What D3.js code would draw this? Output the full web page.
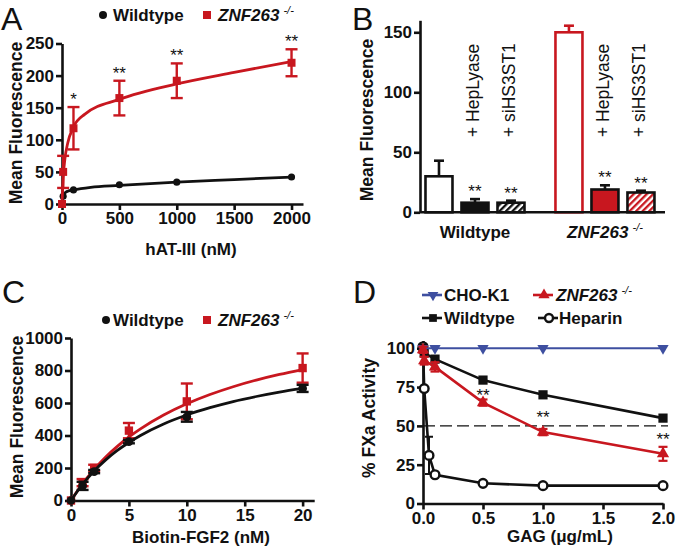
<!DOCTYPE html>
<html><head><meta charset="utf-8">
<script src="https://cdn.jsdelivr.net/npm/d3@7"></script>
<style>body{margin:0;background:#fff} svg{display:block}</style>
</head><body><svg id="c" width="676" height="555"></svg>
<script>
// ---------- DATA ----------
// Panel A
const aWtX=[0,10,100,500,1000,2000];
const aWtY=[1,12,22,30,34,42];
const aKoX=[0,10,100,500,1000,2000];
const aKoY=[0,50,118,165,192,220];
const aKoErr=[0,25,33,27,27,21];
const aKoSig=["","","*","**","**","**"];
const aWtFitX=[0,5,10,25,50,100,250,500,1000,1500,2000];
const aWtFitY=[0,8,12,17,20,22,26,29,34,38,42];
const aKoFitX=[0,5,10,25,50,100,200,500,1000,1500,2000];
const aKoFitY=[0,22,40,70,95,120,140,163,187,205,222];
const aXTicks=[0,500,1000,1500,2000];
const aYTicks=[0,50,100,150,200,250];
// Panel B
const bGroups=["Wildtype","ZNF263"];
const bConds=["Control","+ HepLyase","+ siHS3ST1"];
const bWt=[30,8,8];
const bWtErr=[13,3,1.7];
const bKo=[150,19,16.5];
const bKoErr=[5.5,3.5,1.5];
const bSig=["","**","**"];
const bYTicks=[0,50,100,150];
// Panel C
const cX=[0,1,2,5,10,20];
const cWtY=[0,90,178,362,515,690];
const cWtErr=[0,25,10,10,30,22];
const cKoY=[0,110,200,430,610,815];
const cKoErr=[0,22,20,47,110,90];
const cFitX=[0,1,2,3,4,5,6,8,10,12,14,16,18,20];
const cWtFitY=[0,100,182,250,308,357,400,471,526,571,609,640,667,690];
const cKoFitY=[0,104,192,268,333,391,441,526,595,652,700,741,776,806];
const cXTicks=[0,5,10,15,20];
const cYTicks=[0,200,400,600,800,1000];
// Panel D
const dChoX=[0,0.1,0.5,1,2];
const dChoY=[100,100,100,100,100];
const dWtX=[0,0.01,0.1,0.5,1,2];
const dWtY=[100,97,93,79.5,70,55];
const dKoX=[0,0.01,0.1,0.5,1,2];
const dKoY=[99,92,88,65,46,32];
const dKoErr=[2,2.5,3,2,2,4.5];
const dHepX=[0,0.01,0.05,0.1,0.5,1,2];
const dHepY=[101,74,31,18.5,13,11.5,11.5];
const dHepErr=[0,0,12,0,0,0,0];
const dSigX=[0.5,1,2];
const dXTicks=[0,0.5,1,1.5,2];
const dYTicks=[0,25,50,75,100];
const dRef=50;

// ---------- STYLE ----------
const FONT='"Liberation Sans",Arial,Helvetica,sans-serif';
const RED="#c8171f", BLUE="#3e4fa0", BLK="#111";
const svg=d3.select("#c").attr("font-family",FONT);

const defs=svg.append("defs");
function hatch(id,color){
  const p=defs.append("pattern").attr("id",id).attr("patternUnits","userSpaceOnUse")
    .attr("width",4.6).attr("height",4.6).attr("patternTransform","rotate(45)");
  p.append("rect").attr("width",4.6).attr("height",4.6).attr("fill","#fff");
  p.append("rect").attr("width",2.3).attr("height",4.6).attr("fill",color);
}
hatch("hBlk",BLK); hatch("hRed",RED);

function styleAxis(g){
  g.attr("font-family",FONT).attr("font-size",17).attr("font-weight","bold");
  g.select(".domain").attr("stroke",BLK).attr("stroke-width",2.6);
  g.selectAll(".tick line").attr("stroke",BLK).attr("stroke-width",2.6);
  g.selectAll(".tick text").attr("fill",BLK);
}
function drawAxes(x,y,xt,yt,xfmt){
  const gx=svg.append("g").attr("transform",`translate(0,${y.range()[0]})`)
    .call(d3.axisBottom(x).tickValues(xt).tickSize(6).tickSizeOuter(0).tickPadding(2).tickFormat(xfmt||d3.format("d")));
  styleAxis(gx);
  const gy=svg.append("g").attr("transform",`translate(${x.range()[0]},0)`)
    .call(d3.axisLeft(y).tickValues(yt).tickSize(6).tickSizeOuter(0).tickPadding(2).tickFormat(d3.format("d")));
  styleAxis(gy);
}
function yTitle(txt,x,cy){
  svg.append("text").attr("transform",`translate(${x},${cy}) rotate(-90)`)
    .attr("text-anchor","middle").attr("font-size",17.5).attr("font-weight","bold").attr("fill",BLK).text(txt);
}
function xTitle(txt,cx,y){
  svg.append("text").attr("x",cx).attr("y",y).attr("text-anchor","middle")
    .attr("font-size",17).attr("font-weight","bold").attr("fill",BLK).text(txt);
}
function panelLetter(t,x,y){
  svg.append("text").attr("x",x).attr("y",y).attr("font-size",32).attr("fill",BLK).text(t);
}
function znf(x,y,anchor){
  const t=svg.append("text").attr("x",x).attr("y",y).attr("text-anchor",anchor)
    .attr("font-size",17).attr("font-weight","bold").attr("font-style","italic").attr("fill",BLK);
  t.append("tspan").text("ZNF263");
  t.append("tspan").attr("dx",4).attr("dy",-7).attr("font-size",11).attr("font-weight","normal").text("-/-");
}
function legendText(txt,x,y){
  svg.append("text").attr("x",x).attr("y",y).attr("font-size",17).attr("font-weight","bold").attr("fill",BLK).text(txt);
}
function errBars(xs,ys,es,x,y,color,cap,sw){
  const g=svg.append("g").attr("stroke",color).attr("stroke-width",sw||2.4).attr("fill","none");
  xs.forEach((xv,i)=>{
    if(!es[i]) return;
    const px=x(xv), t=y(ys[i]+es[i]), b=y(Math.max(0,ys[i]-es[i]));
    g.append("line").attr("x1",px).attr("x2",px).attr("y1",t).attr("y2",b);
    g.append("line").attr("x1",px-cap/2).attr("x2",px+cap/2).attr("y1",t).attr("y2",t);
    g.append("line").attr("x1",px-cap/2).attr("x2",px+cap/2).attr("y1",b).attr("y2",b);
  });
}
function curve(xs,ys,x,y,color,sw,cv){
  svg.append("path").datum(xs.map((v,i)=>[v,ys[i]]))
    .attr("d",d3.line().x(d=>x(d[0])).y(d=>y(d[1])).curve(cv||d3.curveMonotoneX))
    .attr("fill","none").attr("stroke",color).attr("stroke-width",sw);
}
function marks(xs,ys,x,y,type,size,fill,stroke,sw,rot){
  svg.append("g").selectAll("path").data(xs).join("path")
    .attr("d",d3.symbol().type(type).size(size))
    .attr("transform",(d,i)=>`translate(${x(d)},${y(ys[i])})${rot?" rotate(180)":""}`)
    .attr("fill",fill).attr("stroke",stroke||"none").attr("stroke-width",sw||0);
}
function stars(list,xs,ys,x,y,off){
  svg.append("g").attr("font-size",17).attr("fill",BLK).attr("text-anchor","middle")
    .selectAll("text").data(xs).join("text")
    .attr("x",d=>x(d)).attr("y",(d,i)=>y(ys[i])+off).text((d,i)=>list[i]);
}

// ---------- PANEL A ----------
{
  const x=d3.scaleLinear().domain([0,2100]).range([62,303]);
  const y=d3.scaleLinear().domain([0,250]).range([204,43.5]);
  drawAxes(x,y,aXTicks,aYTicks);
  curve(aWtFitX,aWtFitY,x,y,BLK,2.8);
  marks(aWtX,aWtY,x,y,d3.symbolCircle,40,BLK);
  curve(aKoFitX,aKoFitY,x,y,RED,2.8);
  errBars(aKoX,aKoY,aKoErr,x,y,RED,12);
  marks(aKoX,aKoY,x,y,d3.symbolSquare,64,RED);
  stars(aKoSig,aKoX,aKoY.map((v,i)=>v+aKoErr[i]),x,y,-2);
  yTitle("Mean Fluorescence",21.5,123);
  xTitle("hAT-III (nM)",191,255);
  panelLetter("A",1,30);
  svg.append("circle").attr("cx",103).attr("cy",15).attr("r",4).attr("fill",BLK);
  legendText("Wildtype",113,21);
  svg.append("rect").attr("x",203).attr("y",11).attr("width",8).attr("height",8).attr("fill",RED);
  znf(218,21,"start");
}

// ---------- PANEL B ----------
{
  const y=d3.scaleLinear().domain([0,160]).range([212.3,20.3]);
  const gx=d3.scaleBand().domain(bGroups).range([420,665]).paddingInner(0.169).paddingOuter(0.027).align(0.14);
  const ix=d3.scaleBand().domain(bConds).range([0,gx.bandwidth()]).paddingInner(0.25).paddingOuter(0.125);
  const bars=[];
  bConds.forEach((c,i)=>bars.push({g:"Wildtype",c,v:bWt[i],e:bWtErr[i],s:bSig[i],
     fill:[ "#fff",BLK,"url(#hBlk)"][i],stroke:BLK}));
  bConds.forEach((c,i)=>bars.push({g:"ZNF263",c,v:bKo[i],e:bKoErr[i],s:bSig[i],
     fill:["#fff",RED,"url(#hRed)"][i],stroke:i===0?RED:BLK}));
  const bx=d=>gx(d.g)+ix(d.c);
  const w=ix.bandwidth();
  bars.forEach(d=>{
    const cx=bx(d)+w/2, t=y(d.v+d.e);
    svg.append("line").attr("x1",cx).attr("x2",cx).attr("y1",y(d.v)).attr("y2",t).attr("stroke",d.stroke).attr("stroke-width",2.6);
    svg.append("line").attr("x1",cx-5).attr("x2",cx+5).attr("y1",t).attr("y2",t).attr("stroke",d.stroke).attr("stroke-width",2.6);
  });
  svg.append("g").selectAll("rect").data(bars).join("rect")
    .attr("x",d=>bx(d)).attr("width",w).attr("y",d=>y(d.v)).attr("height",d=>y(0)-y(d.v))
    .attr("fill",d=>d.fill).attr("stroke",d=>d.stroke).attr("stroke-width",2.6);
  svg.append("g").attr("font-size",17).attr("text-anchor","middle").attr("fill",BLK)
    .selectAll("text").data(bars.filter(d=>d.s)).join("text")
    .attr("x",d=>bx(d)+w/2).attr("y",d=>y(d.v+d.e)-2).text(d=>d.s);
  // rotated condition labels
  svg.append("g").attr("font-size",17.5).attr("fill",BLK)
    .selectAll("text").data(bars.filter(d=>d.c!=="Control")).join("text")
    .attr("transform",d=>`translate(${bx(d)+w/2+4},137) rotate(-90)`).text(d=>d.c);
  // axes
  const gy=svg.append("g").attr("transform",`translate(420,0)`)
    .call(d3.axisLeft(y).tickValues(bYTicks).tickSize(6).tickSizeOuter(0).tickPadding(2));
  styleAxis(gy);
  svg.append("line").attr("x1",420).attr("x2",665).attr("y1",y(0)).attr("y2",y(0)).attr("stroke",BLK).attr("stroke-width",2.6);
  xTitle("Wildtype",gx("Wildtype")+gx.bandwidth()/2,238);
  znf(gx("ZNF263")+gx.bandwidth()/2,238,"middle");
  yTitle("Mean Fluorescence",373,120);
  panelLetter("B",352,30);
}

// ---------- PANEL C ----------
{
  const x=d3.scaleLinear().domain([0,21]).range([71,314.2]);
  const y=d3.scaleLinear().domain([0,1000]).range([500.5,338]);
  drawAxes(x,y,cXTicks,cYTicks);
  curve(cFitX,cKoFitY,x,y,RED,2.8);
  errBars(cX,cKoY,cKoErr,x,y,RED,12);
  marks(cX,cKoY,x,y,d3.symbolSquare,70,RED);
  curve(cFitX,cWtFitY,x,y,BLK,2.8);
  errBars(cX,cWtY,cWtErr,x,y,BLK,12);
  marks(cX,cWtY,x,y,d3.symbolCircle,60,BLK);
  yTitle("Mean Fluorescence",22.5,417);
  xTitle("Biotin-FGF2 (nM)",201,543);
  panelLetter("C",2,303);
  svg.append("circle").attr("cx",106).attr("cy",320).attr("r",4).attr("fill",BLK);
  legendText("Wildtype",113,326);
  svg.append("rect").attr("x",203).attr("y",316).attr("width",8).attr("height",8).attr("fill",RED);
  znf(218,326,"start");
}

// ---------- PANEL D ----------
{
  const x=d3.scaleLinear().domain([0,2]).range([423,663]);
  const y=d3.scaleLinear().domain([0,105]).range([503.5,340.5]);
  drawAxes(x,y,dXTicks,dYTicks,d3.format(".1f"));
  svg.append("line").attr("x1",x(0)).attr("x2",x(2)+5).attr("y1",y(dRef)).attr("y2",y(dRef))
    .attr("stroke",BLK).attr("stroke-width",1.3).attr("stroke-dasharray","12,5");
  const lin=d3.curveLinear;
  // heparin
  curve(dHepX,dHepY,x,y,BLK,2.6,lin);
  errBars(dHepX,dHepY,dHepErr,x,y,BLK,8,2);
  marks(dHepX,dHepY,x,y,d3.symbolCircle,60,"#fff",BLK,2.4);
  // wildtype
  curve(dWtX,dWtY,x,y,BLK,2.6,lin);
  marks(dWtX,dWtY,x,y,d3.symbolSquare,85,BLK);
  // CHO-K1
  curve(dChoX,dChoY,x,y,BLUE,2.2,lin);
  marks(dChoX,dChoY,x,y,d3.symbolTriangle,55,BLUE,null,0,true);
  // ZNF263
  curve(dKoX,dKoY,x,y,RED,2.6,lin);
  errBars(dKoX,dKoY,dKoErr,x,y,RED,9,2.2);
  marks(dKoX,dKoY,x,y,d3.symbolTriangle,65,RED);
  // significance between wt and ko
  const mid=dSigX.map(v=>(dWtY[dWtX.indexOf(v)]+dKoY[dKoX.indexOf(v)])/2);
  stars(dSigX.map(()=>"**"),dSigX,mid,x,y,9.5);
  yTitle("% FXa Activity",375,418);
  xTitle("GAG (\u03bcg/mL)",560,542);
  panelLetter("D",353,303);
  // legend
  const leg=[
    {lx:422,ly:295,c:BLUE,t:d3.symbolTriangle,rot:true,s:50,f:BLUE,txt:"CHO-K1",tx:444},
    {lx:533,ly:295,c:RED,t:d3.symbolTriangle,rot:false,s:55,f:RED,txt:null,tx:556},
    {lx:422,ly:318,c:BLK,t:d3.symbolSquare,rot:false,s:60,f:BLK,txt:"Wildtype",tx:444},
    {lx:538,ly:318,c:BLK,t:d3.symbolCircle,rot:false,s:50,f:"#fff",txt:"Heparin",tx:559}
  ];
  leg.forEach(d=>{
    svg.append("line").attr("x1",d.lx).attr("x2",d.lx+20).attr("y1",d.ly).attr("y2",d.ly).attr("stroke",d.c).attr("stroke-width",2.6);
    svg.append("path").attr("d",d3.symbol().type(d.t).size(d.s)())
      .attr("transform",`translate(${d.lx+11},${d.ly})${d.rot?" rotate(180)":""}`)
      .attr("fill",d.f).attr("stroke",d.f==="#fff"?BLK:"none").attr("stroke-width",2.4);
    if(d.txt) legendText(d.txt,d.tx,d.ly+6);
    else znf(d.tx,d.ly+6,"start");
  });
}
</script></body></html>
